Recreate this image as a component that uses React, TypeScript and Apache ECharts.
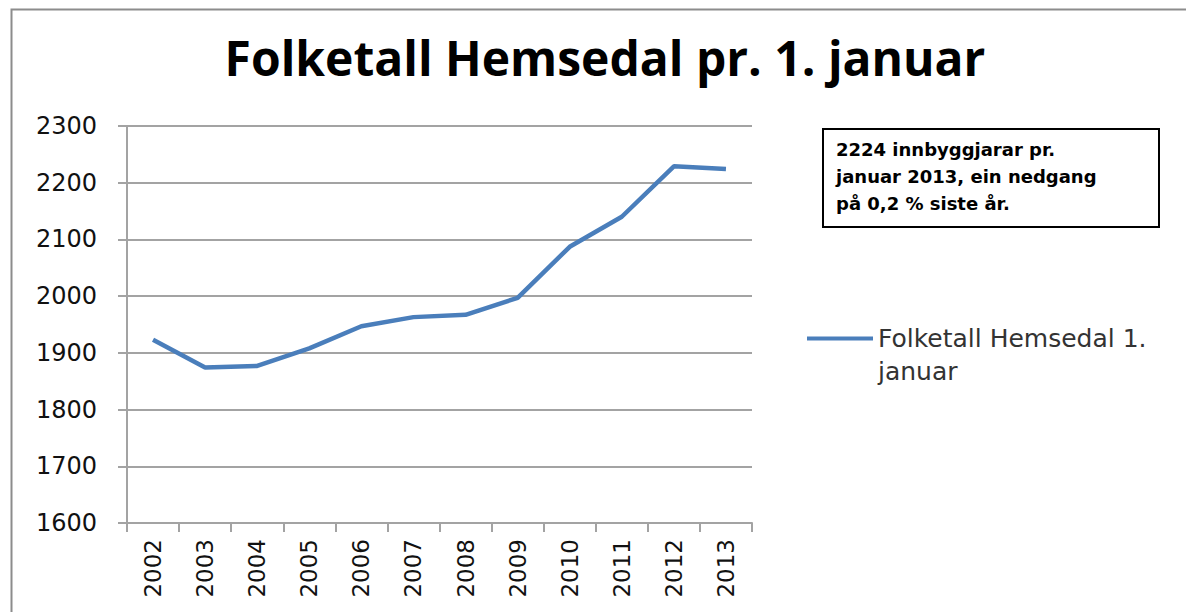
import React, { useEffect, useRef } from "react";
import * as echarts from "echarts";

const years = ["2002", "2003", "2004", "2005", "2006", "2007", "2008", "2009", "2010", "2011", "2012", "2013"];
const population = [1923, 1874, 1877, 1908, 1947, 1963, 1967, 1997, 2087, 2140, 2229, 2224];
const seriesName = "Folketall Hemsedal 1. januar";
const titleText = "Folketall Hemsedal pr. 1. januar";
const noteLines = ["2224 innbyggjarar pr.", "januar 2013, ein nedgang", "på 0,2 % siste år."];
const yMin = 1600;
const yMax = 2300;
const yStep = 100;

export default function App() {
  const ref = useRef<HTMLDivElement>(null);
  useEffect(() => {
    if (!ref.current) return;
    const chart = echarts.init(ref.current, undefined, { renderer: "svg" });
    const gray = "#a3a3a3";
    chart.setOption({
      animation: false,
      backgroundColor: "#ffffff",
      title: {
        text: titleText,
        left: 600,
        top: 28,
        textAlign: "center",
        textStyle: { fontFamily: "Open Sans", fontWeight: "bold", fontSize: 48, color: "#000" },
      },
      grid: { left: 127, right: 434, top: 126, bottom: 89, containLabel: false },
      legend: {
        left: 802,
        top: 284,
        icon: "rect",
        itemWidth: 66,
        itemHeight: 4,
        itemGap: 5,
        data: [seriesName],
        formatter: () => "\nFolketall Hemsedal 1.\njanuar",
        textStyle: {
          fontFamily: "DejaVu Sans",
          fontSize: 25,
          color: "#333",
          lineHeight: 33,
        },
      },
      xAxis: {
        type: "category",
        data: years,
        boundaryGap: true,
        axisLine: { lineStyle: { color: gray, width: 2 } },
        axisTick: { show: true, length: 9, lineStyle: { color: gray, width: 2 } },
        axisLabel: {
          rotate: 90,
          margin: 16,
          fontFamily: "DejaVu Sans",
          fontSize: 23,
          color: "#111",
        },
      },
      yAxis: {
        type: "value",
        min: yMin,
        max: yMax,
        interval: yStep,
        axisLine: { show: true, lineStyle: { color: gray, width: 2 } },
        axisTick: { show: true, length: 9, lineStyle: { color: gray, width: 2 } },
        splitLine: { lineStyle: { color: gray, width: 2 } },
        axisLabel: {
          margin: 30,
          fontFamily: "DejaVu Sans",
          fontSize: 24,
          color: "#111",
          formatter: (v: number) => String(v),
        },
      },
      series: [
        {
          name: seriesName,
          type: "line",
          data: population,
          showSymbol: false,
          symbol: "none",
          lineStyle: { color: "#4a7ebb", width: 4.5 },
          itemStyle: { color: "#4a7ebb" },
        },
      ],
      graphic: [
        {
          type: "rect",
          left: 9,
          top: 7,
          shape: { x: 0, y: 0, width: 1300, height: 700 },
          style: { fill: "none", stroke: "#8c8c8c", lineWidth: 2 },
          silent: true,
        },
        {
          type: "rect",
          left: 822,
          top: 128,
          shape: { x: 0, y: 0, width: 336, height: 98 },
          style: { fill: "#fff", stroke: "#000", lineWidth: 2 },
        },
        {
          type: "text",
          left: 836,
          top: 136,
          style: {
            text: noteLines.join("\n"),
            fontFamily: "DejaVu Sans",
            fontWeight: "bold",
            fontSize: 18,
            lineHeight: 27,
            fill: "#000",
          },
        },
      ],
    });
    return () => chart.dispose();
  }, []);
  return <div ref={ref} style={{ position: "fixed", left: 0, top: 0, width: 1186, height: 612 }} />;
}
